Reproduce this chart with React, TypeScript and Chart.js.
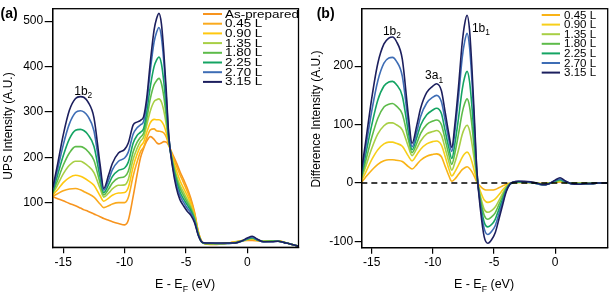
import React, { useEffect, useRef } from "react";
import { Chart, registerables } from "chart.js";

Chart.register(...registerables);

const FONT = '"Liberation Sans", Arial, Helvetica, sans-serif';

// Energy grid, E - E_F (eV)
const ENERGY = [-15.85, -15.5, -15, -14.5, -14, -13.6, -13.3, -13, -12.5, -12, -11.7, -11.3, -11, -10.5, -10, -9.7, -9.3, -9, -8.7, -8.45, -8.2, -7.9, -7.6, -7.4, -7.2, -7.0, -6.8, -6.6, -6.4, -6.1, -5.8, -5.5, -5.2, -4.9, -4.6, -4.3, -4.0, -3.7, -3.4, -3, -2.5, -2, -1.5, -1, -0.5, 0, 0.4, 0.8, 1.3, 2, 2.5, 3, 3.5, 4.3];

// Panel (a): UPS intensity
const UPS_AS_PREPARED = [114, 110, 105, 99, 94, 89, 85, 82, 76, 70, 66, 62, 59, 55, 52, 62, 115, 160, 200, 220, 236, 246, 240, 233, 230, 232, 235, 234, 226, 208, 190, 170, 152, 133, 110, 80, 38, 15, 10, 9, 9, 10, 12, 15, 17, 18, 18, 17, 16, 17, 17, 14, 10, 4];
const UPS_045 = [115, 120, 127, 131, 132, 129, 125, 121, 113, 98, 90, 94, 98, 101, 101, 112, 160, 189, 213, 223, 243, 261, 263, 259, 258, 257, 254, 245, 228, 204, 183, 163, 145, 126, 105, 77, 37, 15, 11, 10, 10, 11, 12, 14, 17, 19, 20, 18, 16, 17, 17, 14, 10, 4];
const UPS_090 = [118, 128, 145, 156, 161, 159, 155, 150, 139, 116, 104, 111, 117, 122, 123, 134, 180, 206, 225, 234, 255, 277, 284, 283, 283, 280, 271, 254, 230, 199, 173, 150, 133, 117, 98, 73, 35, 14, 11, 10, 10, 11, 12, 14, 17, 20, 21, 18, 16, 16, 17, 14, 10, 4];
const UPS_135 = [121, 138, 164, 183, 192, 192, 188, 182, 167, 132, 113, 122, 131, 139, 140, 152, 197, 219, 236, 245, 271, 303, 323, 327, 329, 322, 302, 272, 234, 194, 163, 140, 124, 108, 92, 69, 34, 14, 11, 11, 10, 11, 12, 13, 17, 20, 22, 19, 16, 16, 16, 14, 10, 4];
const UPS_180 = [123, 147, 183, 210, 224, 224, 221, 214, 194, 144, 118, 131, 144, 155, 158, 170, 213, 233, 245, 254, 284, 330, 360, 369, 374, 363, 333, 289, 238, 191, 157, 133, 117, 102, 88, 66, 33, 14, 11, 11, 11, 11, 12, 13, 16, 21, 23, 19, 16, 16, 16, 14, 10, 4];
const UPS_225 = [126, 158, 204, 241, 260, 262, 259, 251, 225, 157, 123, 141, 158, 172, 177, 190, 232, 248, 256, 264, 300, 357, 400, 414, 421, 406, 365, 307, 241, 187, 150, 125, 109, 96, 83, 63, 31, 14, 11, 11, 11, 11, 11, 12, 16, 21, 24, 19, 15, 16, 16, 13, 10, 4];
const UPS_270 = [129, 169, 228, 274, 299, 303, 300, 291, 259, 172, 128, 151, 173, 192, 199, 212, 252, 265, 272, 280, 318, 393, 454, 475, 486, 465, 409, 331, 246, 184, 143, 117, 102, 89, 78, 60, 30, 14, 12, 12, 11, 11, 11, 12, 16, 22, 25, 20, 15, 15, 16, 13, 10, 4];
const UPS_315 = [134, 180, 250, 304, 330, 334, 332, 323, 288, 185, 132, 162, 187, 210, 218, 232, 272, 278, 282, 290, 330, 411, 480, 505, 517, 494, 430, 344, 248, 180, 135, 108, 94, 82, 73, 57, 29, 14, 12, 12, 12, 12, 12, 12, 16, 23, 27, 21, 15, 15, 16, 13, 10, 4];

// Panel (b): difference intensity
const DIFF_045 = [1, 10, 22, 32, 38, 40, 40, 39, 37, 28, 24, 32, 39, 46, 49, 50, 45, 29, 13, 3, 7, 15, 23, 26, 28, 25, 19, 11, 2, -6, -11, -12, -12, -11, -8, -5, -2, 0, 1, 1, 1, 1, 0, -1, 0, 1, 2, 1, 0, 0, 0, 0, 0, 0];
const DIFF_090 = [4, 18, 40, 57, 67, 70, 70, 68, 63, 46, 38, 49, 58, 67, 71, 72, 65, 46, 25, 12, 19, 31, 44, 50, 53, 48, 36, 20, 4, -15, -29, -33, -31, -27, -20, -12, -5, -1, 1, 1, 1, 1, 0, -1, 0, 2, 3, 1, 0, -1, 0, 0, 0, 0];
const DIFF_135 = [7, 28, 59, 84, 98, 103, 103, 100, 91, 62, 47, 60, 72, 84, 88, 90, 82, 60, 37, 22, 35, 57, 83, 94, 99, 90, 67, 38, 8, -23, -45, -50, -47, -41, -30, -18, -7, -1, 1, 2, 1, 1, 0, -2, 0, 2, 4, 2, 0, -1, -1, 0, 0, 0];
const DIFF_180 = [9, 37, 78, 111, 130, 135, 136, 132, 118, 74, 52, 69, 85, 100, 106, 108, 100, 75, 49, 32, 51, 84, 120, 136, 144, 131, 98, 55, 12, -29, -55, -62, -58, -51, -37, -23, -9, -1, 1, 2, 2, 1, 0, -2, -1, 3, 5, 2, 0, -1, -1, 0, 0, 0];
const DIFF_225 = [12, 48, 99, 142, 166, 173, 174, 169, 149, 87, 57, 79, 99, 117, 125, 128, 119, 90, 61, 42, 67, 111, 160, 181, 191, 174, 130, 73, 15, -35, -67, -75, -71, -62, -45, -28, -11, -2, 1, 2, 2, 1, -1, -3, -1, 3, 6, 2, -1, -1, -1, -1, 0, 0];
const DIFF_270 = [15, 59, 123, 175, 205, 214, 215, 209, 183, 102, 62, 89, 114, 137, 147, 150, 139, 108, 75, 54, 88, 147, 214, 242, 256, 233, 174, 97, 20, -40, -78, -88, -83, -73, -53, -33, -13, -2, 2, 3, 2, 1, -1, -3, -1, 4, 7, 3, -1, -2, -1, -1, 0, 0];
const DIFF_315 = [20, 70, 145, 205, 238, 248, 250, 243, 212, 115, 68, 100, 128, 155, 166, 170, 158, 122, 85, 61, 100, 165, 240, 272, 287, 262, 195, 110, 22, -47, -92, -103, -97, -85, -62, -38, -15, -2, 2, 3, 3, 2, 0, -3, -1, 5, 9, 4, -1, -2, -1, -1, 0, 0];

const ZERO_LINE_X = [-15.85, 4.3];
const ZERO_LINE_Y = [0, 0];

const UPS_LABELS = ["As-prepared", "0.45 L", "0.90 L", "1.35 L", "1.80 L", "2.25 L", "2.70 L", "3.15 L"];
const DIFF_LABELS = ["0.45 L", "0.90 L", "1.35 L", "1.80 L", "2.25 L", "2.70 L", "3.15 L"];
const UPS_COLORS = ["#F7941E", "#FAAA1E", "#FFC80F", "#A8CF45", "#5DBB4A", "#14A463", "#3E6DB5", "#1C1F5E"];
const DIFF_COLORS = ["#F9B316", "#F7CF1A", "#A8CF45", "#5DBB4A", "#14A463", "#3E6DB5", "#1C1F5E"];

const UPS_SERIES = [UPS_AS_PREPARED, UPS_045, UPS_090, UPS_135, UPS_180, UPS_225, UPS_270, UPS_315];
const DIFF_SERIES = [DIFF_045, DIFF_090, DIFF_135, DIFF_180, DIFF_225, DIFF_270, DIFF_315];

const X_TICKS = [-15, -10, -5, 0];
const UPS_Y_TICKS = [100, 200, 300, 400, 500];
const DIFF_Y_TICKS = [-100, 0, 100, 200];

type Part = { t: string; sub?: boolean };

function drawRich(ctx: CanvasRenderingContext2D, parts: Part[], x: number, y: number, size: number, align: "left" | "center") {
  const subSize = size * 0.7;
  const widths = parts.map((p) => {
    ctx.font = `${p.sub ? subSize : size}px ${FONT}`;
    return ctx.measureText(p.t).width;
  });
  const total = widths.reduce((a, b) => a + b, 0);
  let cx = align === "center" ? x - total / 2 : x;
  ctx.textAlign = "left";
  ctx.textBaseline = "alphabetic";
  parts.forEach((p, i) => {
    ctx.font = `${p.sub ? subSize : size}px ${FONT}`;
    ctx.fillText(p.t, cx, y + (p.sub ? size * 0.3 : 0));
    cx += widths[i];
  });
}

type Deco = {
  panel: string;
  panelX: number;
  yTitle: string;
  yTitleX: number;
  yTitleY: number;
  xTitleX: number;
  legendLabels: string[];
  legendColors: string[];
  legendLineX: [number, number];
  legendTextX: number;
  legendY0: number;
  legendStep: number;
  legendScaleX: number;
  notes: { t: string; s: string; x: number; y: number }[];
};

function decoPlugin(d: Deco) {
  return {
    id: "deco",
    afterDraw(chart: any) {
      const ctx: CanvasRenderingContext2D = chart.ctx;
      const a = chart.chartArea;
      const xs = chart.scales.x;
      const ys = chart.scales.y;
      ctx.save();
      ctx.strokeStyle = "#000";
      ctx.lineWidth = 1.3;
      ctx.strokeRect(a.left, a.top, a.right - a.left, a.bottom - a.top);
      ctx.fillStyle = "#000";
      // panel label
      ctx.font = `bold 14px ${FONT}`;
      ctx.textAlign = "left";
      ctx.textBaseline = "alphabetic";
      ctx.fillText(d.panel, d.panelX, 18);
      // y title
      ctx.save();
      ctx.translate(d.yTitleX, d.yTitleY);
      ctx.rotate(-Math.PI / 2);
      ctx.font = `12px ${FONT}`;
      ctx.textAlign = "center";
      ctx.fillText(d.yTitle, 0, 0);
      ctx.restore();
      // x title
      drawRich(ctx, [{ t: "E - E" }, { t: "F", sub: true }, { t: " (eV)" }], d.xTitleX, 288, 12.5, "center");
      // legend
      d.legendLabels.forEach((lab, i) => {
        const y = d.legendY0 + i * d.legendStep;
        ctx.strokeStyle = d.legendColors[i];
        ctx.lineWidth = 2;
        ctx.beginPath();
        ctx.moveTo(d.legendLineX[0], y);
        ctx.lineTo(d.legendLineX[1], y);
        ctx.stroke();
        ctx.save();
        ctx.fillStyle = "#000";
        ctx.translate(d.legendTextX, y);
        ctx.scale(d.legendScaleX, 1);
        ctx.font = `11px ${FONT}`;
        ctx.textAlign = "left";
        ctx.textBaseline = "middle";
        ctx.fillText(lab, 0, 0.5);
        ctx.restore();
      });
      // peak annotations
      ctx.fillStyle = "#000";
      d.notes.forEach((n) => {
        drawRich(ctx, [{ t: n.t }, { t: n.s, sub: true }], xs.getPixelForValue(n.x), ys.getPixelForValue(n.y), 12, "center");
      });
      ctx.restore();
    },
  };
}

function axisX(min: number, max: number, height: number) {
  return {
    type: "linear" as const,
    min,
    max,
    afterFit: (s: any) => {
      s.height = height;
    },
    afterBuildTicks: (s: any) => {
      s.ticks = X_TICKS.map((v) => ({ value: v }));
    },
    grid: { drawOnChartArea: false, drawTicks: true, tickLength: 6, color: "#000", lineWidth: 1.2 },
    border: { display: true, color: "#000", width: 1.3 },
    ticks: { color: "#000", font: { family: FONT, size: 12 }, padding: 2, maxRotation: 0, autoSkip: false, callback: (v: any) => String(v) },
  };
}

function axisY(min: number, max: number, width: number, ticks: number[], tickLen: number) {
  return {
    type: "linear" as const,
    min,
    max,
    afterFit: (s: any) => {
      s.width = width;
    },
    afterBuildTicks: (s: any) => {
      s.ticks = ticks.map((v) => ({ value: v }));
    },
    grid: { drawOnChartArea: false, drawTicks: true, tickLength: tickLen, color: "#000", lineWidth: 1.2 },
    border: { display: true, color: "#000", width: 1.3 },
    ticks: { color: "#000", font: { family: FONT, size: 12 }, padding: 1.5, autoSkip: false, callback: (v: any) => String(v) },
  };
}

function lineSet(label: string, ys: number[], color: string, order: number) {
  return {
    label,
    data: ENERGY.map((x, i) => ({ x, y: ys[i] })),
    borderColor: color,
    backgroundColor: color,
    borderWidth: 1.6,
    pointRadius: 0,
    fill: false,
    cubicInterpolationMode: "monotone" as const,
    order,
  };
}

export default function App() {
  const refA = useRef<HTMLCanvasElement>(null);
  const refB = useRef<HTMLCanvasElement>(null);

  useEffect(() => {
    const chartA = new Chart(refA.current!, {
      type: "line",
      data: {
        datasets: UPS_SERIES.map((s, i) => lineSet(UPS_LABELS[i], s, UPS_COLORS[i], UPS_SERIES.length - i)),
      },
      options: {
        responsive: false,
        animation: false,
        devicePixelRatio: 1,
        layout: { padding: { left: 0, right: 6.5, top: 1.5, bottom: 0 } },
        plugins: { legend: { display: false }, tooltip: { enabled: false } },
        scales: {
          x: axisX(-15.86, 4.17, 45.7),
          y: axisY(2.7, 527.3, 52.7, UPS_Y_TICKS, 8),
        },
      } as any,
      plugins: [
        decoPlugin({
          panel: "(a)",
          panelX: 0.5,
          yTitle: "UPS Intensity (A.U.)",
          yTitleX: 11.5,
          yTitleY: 126,
          xTitleX: 185,
          legendLabels: UPS_LABELS,
          legendColors: UPS_COLORS,
          legendLineX: [203, 222],
          legendTextX: 225,
          legendY0: 14,
          legendStep: 9.7,
          legendScaleX: 1.22,
          notes: [{ t: "1b", s: "2", x: -13.37, y: 338 }],
        }),
      ],
    });

    const chartB = new Chart(refB.current!, {
      type: "line",
      data: {
        datasets: [
          ...DIFF_SERIES.map((s, i) => lineSet(DIFF_LABELS[i], s, DIFF_COLORS[i], DIFF_SERIES.length - i)),
          {
            label: "zero",
            data: ZERO_LINE_X.map((x, i) => ({ x, y: ZERO_LINE_Y[i] })),
            borderColor: "#000",
            borderWidth: 1.4,
            borderDash: [6, 4],
            pointRadius: 0,
            fill: false,
            order: -1,
          },
        ],
      },
      options: {
        responsive: false,
        animation: false,
        devicePixelRatio: 1,
        layout: { padding: { left: 0, right: 1.3, top: 1.5, bottom: 0 } },
        plugins: { legend: { display: false }, tooltip: { enabled: false } },
        scales: {
          x: axisX(-15.82, 4.3, 45.3),
          y: axisY(-110.6, 298.3, 56.7, DIFF_Y_TICKS, 7),
        },
      } as any,
      plugins: [
        decoPlugin({
          panel: "(b)",
          panelX: 11.7,
          yTitle: "Difference Intensity (A.U.)",
          yTitleX: 15,
          yTitleY: 119,
          xTitleX: 179,
          legendLabels: DIFF_LABELS,
          legendColors: DIFF_COLORS,
          legendLineX: [236.7, 255],
          legendTextX: 259,
          legendY0: 15,
          legendStep: 9.6,
          legendScaleX: 1.05,
          notes: [
            { t: "1b", s: "2", x: -13.35, y: 254 },
            { t: "3a", s: "1", x: -9.9, y: 178 },
            { t: "1b", s: "1", x: -6.07, y: 259 },
          ],
        }),
      ],
    });

    return () => {
      chartA.destroy();
      chartB.destroy();
    };
  }, []);

  return (
    <div style={{ position: "absolute", left: 0, top: 0, width: 609, height: 293, background: "#fff" }}>
      <canvas ref={refA} width={305} height={293} style={{ position: "absolute", left: 0, top: 0, width: 305, height: 293 }} />
      <canvas ref={refB} width={304} height={293} style={{ position: "absolute", left: 305, top: 0, width: 304, height: 293 }} />
    </div>
  );
}
